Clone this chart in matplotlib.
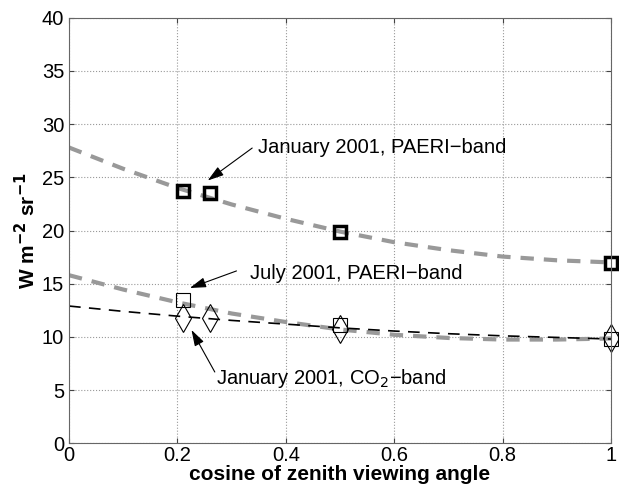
import numpy as np
import matplotlib.pyplot as plt

plt.rcParams['font.family'] = ['Liberation Sans', 'DejaVu Sans']

# measured points
jan_x = [0.21, 0.26, 0.5, 1.0]
jan_y = [23.7, 23.5, 19.9, 16.9]
jul_x = [0.21, 0.5, 1.0]
jul_y = [13.5, 11.1, 9.8]
co2_x = [0.21, 0.26, 0.5, 1.0]
co2_y = [11.8, 11.75, 10.7, 9.85]

# fitted curves
fit_x = [0.0, 0.1, 0.2, 0.3, 0.4, 0.5, 0.6, 0.7, 0.8, 0.9, 1.0]
jan_fit = [27.8, 25.8, 24.0, 22.45, 21.1, 19.9, 18.9, 18.15, 17.55, 17.2, 17.0]
jul_fit = [15.8, 14.45, 13.25, 12.2, 11.4, 10.7, 10.2, 9.9, 9.75, 9.75, 9.85]
co2_fit = [12.9, 12.4, 11.95, 11.55, 11.2, 10.85, 10.55, 10.3, 10.1, 9.95, 9.8]

fig = plt.figure(figsize=(6.19, 4.92), dpi=100)
ax = fig.add_axes([0.1115, 0.099, 0.8755, 0.865])

ax.plot(fit_x, jan_fit, '--', color='#999999', lw=3, dashes=(3.2, 2.4))
ax.plot(fit_x, jul_fit, '--', color='#999999', lw=3, dashes=(3.2, 2.4))
ax.plot(fit_x, co2_fit, '--', color='black', lw=1.2, dashes=(7, 5))

ax.plot(jan_x, jan_y, 's', ms=9, mfc='none', mec='black', mew=2.5, clip_on=False)
ax.plot(jul_x, jul_y, 's', ms=9.5, mfc='none', mec='black', mew=0.8, clip_on=False)
ax.plot(co2_x, co2_y, 'd', ms=14, mfc='none', mec='black', mew=0.8, clip_on=False)

arrow = dict(arrowstyle='-|>,head_length=0.7,head_width=0.22', color='black',
             lw=0.8, mutation_scale=14, shrinkA=0, shrinkB=0)
ax.annotate('', xy=(0.256, 24.7), xytext=(0.338, 27.75), arrowprops=arrow)
ax.annotate('', xy=(0.223, 14.6), xytext=(0.309, 16.2), arrowprops=arrow)
ax.annotate('', xy=(0.226, 10.65), xytext=(0.269, 6.7), arrowprops=arrow)
ax.text(0.349, 27.8, 'January 2001, PAERI\u2212band', fontsize=14.5, va='center')
ax.text(0.334, 16.0, 'July 2001, PAERI\u2212band', fontsize=14.5, va='center')
ax.text(0.272, 6.1, 'January 2001, CO$_2$\u2212band', fontsize=14.5, va='center')

ax.set_xlim(0, 1)
ax.set_ylim(0, 40)
ax.set_xticks([0, 0.2, 0.4, 0.6, 0.8, 1])
ax.set_xticklabels(['0', '0.2', '0.4', '0.6', '0.8', '1'])
ax.set_yticks(range(0, 41, 5))
ax.tick_params(direction='in', top=True, right=True, labelsize=14.5, color='#444444')
ax.tick_params(axis='x', pad=2)
ax.grid(True, linestyle=':', color='#999999', lw=0.8)
for s in ax.spines.values():
    s.set_color('#666666')

ax.set_xlabel('cosine of zenith viewing angle', fontsize=15, fontweight='bold', labelpad=0)
ax.set_ylabel('W m$^{\\mathbf{-2}}$ sr$^{\\mathbf{-1}}$', fontsize=15, fontweight='bold', labelpad=2)

plt.savefig('out.png', dpi=100)
